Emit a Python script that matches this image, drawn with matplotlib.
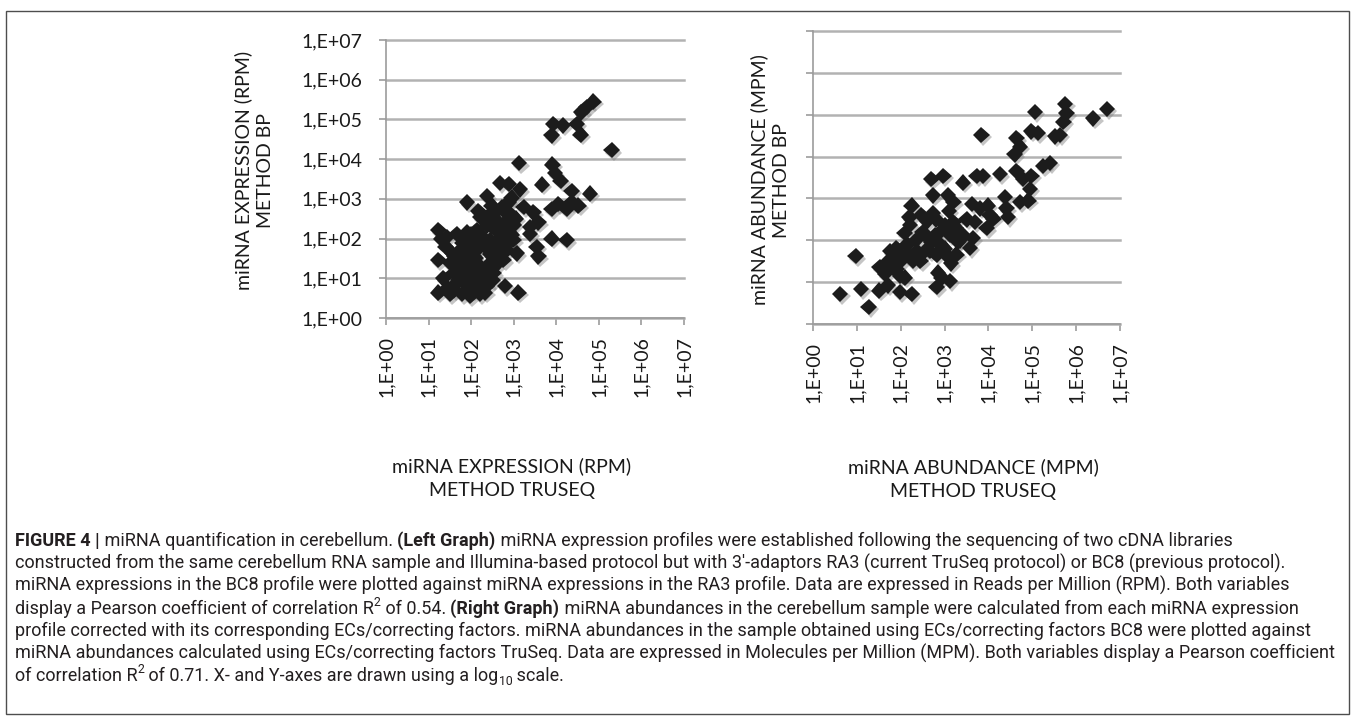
import matplotlib

matplotlib.use("Agg")
import matplotlib.pyplot as plt
import matplotlib.patheffects as pe
import numpy as np
from matplotlib import font_manager
from matplotlib.patches import Rectangle
from matplotlib.transforms import IdentityTransform

W, H, DPI = 1357, 721, 100

# decade ticks shared by both graphs (Excel style labels)
tick_exponents = [0, 1, 2, 3, 4, 5, 6, 7]
tick_labels = ["1,E+00", "1,E+01", "1,E+02", "1,E+03", "1,E+04", "1,E+05", "1,E+06", "1,E+07"]

# left graph, log10 RPM: TruSeq (x) vs BP (y)
left_truseq = [4.87, 4.71, 4.59, 3.93, 4.16, 4.48, 3.89, 4.57, 5.30,
               3.13, 3.91, 3.97, 4.10, 3.66, 4.36, 4.79, 2.68, 2.88, 3.15,
               1.90, 2.37, 2.17, 2.48, 2.95, 3.23, 3.46, 3.89, 4.05, 4.36,
               4.52, 4.24, 3.58, 3.38, 3.38, 3.89, 4.24, 3.54, 3.58,
               1.23, 1.43, 1.66, 1.90, 2.13, 2.37, 2.60, 2.84, 2.91, 2.68,
               2.45, 2.21, 1.98, 1.74, 2.99, 3.07, 2.84, 2.60, 1.23, 1.51,
               1.74, 1.98, 2.21, 2.45, 2.76, 1.59, 1.82, 2.05, 2.29, 2.52,
               1.66, 1.90, 2.13, 2.37, 1.23, 1.51, 1.79, 1.98, 2.21, 2.33,
               2.80, 3.11, 1.55, 1.82, 2.05, 2.37, 2.60, 2.76, 2.25, 1.98,
               2.68, 2.45, 2.72, 2.88, 2.21,
               1.35, 1.45, 1.60, 1.70, 1.85, 1.95, 2.05, 2.10, 2.20, 2.30,
               2.35, 2.45, 2.50, 2.55, 2.60, 2.65, 2.70, 2.75, 2.80, 2.85,
               2.95, 3.00, 2.90, 2.50, 2.30, 2.15, 1.95, 1.80, 2.00, 1.60,
               1.40, 2.40, 2.55, 3.05, 1.30]
left_bp = [5.45, 5.31, 5.18, 4.89, 4.85, 4.89, 4.60, 4.62, 4.23,
           3.90, 3.86, 3.65, 3.45, 3.36, 3.20, 3.13, 3.40, 3.38, 3.24,
           2.91, 3.07, 2.70, 2.83, 3.03, 2.79, 2.66, 2.74, 2.87, 2.91,
           2.83, 2.74, 2.41, 2.29, 2.12, 2.00, 1.96, 1.79, 1.55,
           2.21, 2.04, 2.12, 2.17, 2.21, 2.33, 2.45, 2.62, 2.33, 2.12,
           1.96, 1.79, 1.63, 1.71, 1.96, 1.63, 1.71, 1.55, 1.46, 1.38,
           1.30, 1.38, 1.30, 1.38, 1.46, 1.13, 1.05, 1.13, 1.05, 1.13,
           0.88, 0.80, 0.88, 0.80, 0.64, 0.60, 0.60, 0.55, 0.60, 0.64,
           0.80, 0.64, 1.63, 1.46, 1.55, 1.75, 1.88, 2.04, 2.04, 1.96,
           2.29, 2.62, 2.79, 2.91, 2.54,
           1.00, 0.75, 0.70, 0.95, 1.20, 0.95, 0.70, 1.50, 1.15, 0.90,
           1.25, 1.60, 0.95, 1.30, 1.70, 2.00, 1.85, 2.20, 2.40, 1.90,
           2.10, 2.35, 2.65, 2.30, 2.00, 1.80, 1.75, 1.90, 2.10, 1.55,
           1.80, 2.45, 2.65, 2.50, 2.00]

# right graph, log10 MPM: TruSeq (x) vs BP (y)
right_truseq = [0.62, 0.97, 1.10, 1.27, 1.52, 1.51, 1.71, 1.75, 1.90, 1.83,
                1.98, 1.98, 2.25, 2.09, 2.21, 2.25, 2.28, 2.47, 2.55, 2.70,
                2.74, 2.74, 2.78, 2.82, 2.85, 2.82, 2.97, 3.01, 3.08, 3.20,
                3.12, 3.20, 3.31, 3.12, 2.93, 3.42, 3.42, 3.58, 3.65, 3.62,
                3.73, 3.84, 3.88, 3.81, 3.99, 3.96, 4.11, 4.26, 4.38, 4.41,
                4.45, 4.64, 4.60, 4.72, 4.64, 4.72, 4.79, 4.91, 4.95, 4.98,
                5.06, 4.98, 5.13, 5.25, 5.40, 5.52, 5.63, 5.75, 5.78, 5.71,
                6.39, 6.70, 2.63, 2.89, 3.04, 3.27, 2.66, 2.36, 2.13, 1.71,
                1.64, 1.90, 2.09, 3.69, 4.03,
                1.80, 2.00, 2.15, 2.35, 2.50, 2.60, 2.70, 2.80, 2.90, 3.00,
                3.10, 3.25, 3.35, 2.20, 1.95, 3.50, 2.45, 3.15]
right_bp = [0.72, 1.62, 0.84, 0.41, 1.35, 0.80, 0.92, 1.74, 1.82, 1.35,
            1.15, 0.76, 0.72, 2.17, 2.36, 2.83, 1.50, 2.60, 1.74, 3.46,
            3.07, 2.64, 2.13, 1.66, 1.23, 0.88, 3.54, 2.36, 3.07, 2.91,
            2.13, 2.44, 1.97, 1.03, 1.11, 3.38, 2.13, 1.82, 2.05, 2.87,
            3.54, 4.52, 3.54, 2.76, 2.83, 2.29, 2.52, 3.58, 3.03, 2.76,
            2.56, 4.44, 4.05, 4.24, 3.66, 2.91, 3.46, 2.95, 3.23, 3.54,
            5.07, 4.60, 4.56, 3.77, 3.85, 4.48, 4.52, 5.26, 5.03, 4.83,
            4.91, 5.14, 2.05, 1.90, 1.66, 1.66, 1.74, 1.74, 1.66, 1.50,
            1.19, 1.31, 1.11, 2.44, 2.60,
            1.55, 1.50, 1.90, 2.00, 2.20, 2.45, 1.95, 2.50, 2.20, 1.80,
            2.70, 2.30, 2.00, 2.55, 1.70, 2.50, 1.50, 1.45]

caption_lines = [
    [("FIGURE 4 |", "b"), (" miRNA quantification in cerebellum. ", "n"), ("(Left Graph)", "b"),
     (" miRNA expression profiles were established following the sequencing of two cDNA libraries", "n")],
    [("constructed from the same cerebellum RNA sample and Illumina-based protocol but with "
      "3\u2032-adaptors RA3 (current TruSeq protocol) or BC8 (previous protocol).", "n")],
    [("miRNA expressions in the BC8 profile were plotted against miRNA expressions in the RA3 "
      "profile. Data are expressed in Reads per Million (RPM). Both variables", "n")],
    [("display a Pearson coefficient of correlation R", "n"), ("2", "sup"), (" of 0.54. ", "n"),
     ("(Right Graph)", "b"),
     (" miRNA abundances in the cerebellum sample were calculated from each miRNA expression", "n")],
    [("profile corrected with its corresponding ECs/correcting factors. miRNA abundances in the "
      "sample obtained using ECs/correcting factors BC8 were plotted against", "n")],
    [("miRNA abundances calculated using ECs/correcting factors TruSeq. Data are expressed in "
      "Molecules per Million (MPM). Both variables display a Pearson coefficient", "n")],
    [("of correlation R", "n"), ("2", "sup"), (" of 0.71. X- and Y-axes are drawn using a log", "n"),
     ("10", "sub"), (" scale.", "n")],
]

installed = {f.name for f in font_manager.fontManager.ttflist}
LABEL_FONT = "Lato" if "Lato" in installed else "DejaVu Sans"
CAP_FONT = "Liberation Sans Narrow" if "Liberation Sans Narrow" in installed else "Roboto"
CAP_FAMILY = [CAP_FONT, "DejaVu Sans"]

MARKER_COLOR = "#1c1c1c"
GRID_COLOR = "#b2b2b2"
AXIS_COLOR = "#9c9c9c"


def px_axes(left, top, right, bottom):
    return [left / W, 1 - bottom / H, (right - left) / W, (bottom - top) / H]


def style_axes(ax, show_ylabels):
    ax.set_xscale("log")
    ax.set_yscale("log")
    ax.set_xlim(10.0 ** tick_exponents[0], 10.0 ** tick_exponents[-1])
    ax.set_ylim(10.0 ** tick_exponents[0], 10.0 ** tick_exponents[-1])
    ticks = [10.0 ** e for e in tick_exponents]
    ax.set_xticks(ticks)
    ax.set_xticklabels(tick_labels, rotation=90, fontsize=14, family=LABEL_FONT, color="#1a1a1a")
    ax.set_yticks(ticks)
    if show_ylabels:
        ax.set_yticklabels(tick_labels, fontsize=14, family=LABEL_FONT, color="#1a1a1a")
    else:
        ax.set_yticklabels([])
    ax.minorticks_off()
    ax.tick_params(axis="both", which="major", length=5, width=1.2, color=AXIS_COLOR)
    ax.tick_params(axis="y", pad=12)
    ax.tick_params(axis="x", pad=8)
    ax.grid(axis="y", color=GRID_COLOR, linewidth=1.8, clip_on=False)
    ax.grid(axis="x", visible=False)
    ax.set_axisbelow(True)
    for side in ("top", "right"):
        ax.spines[side].set_visible(False)
    for side in ("left", "bottom"):
        ax.spines[side].set_color(AXIS_COLOR)
        ax.spines[side].set_linewidth(1.2)


def scatter(ax, log_x, log_y):
    x = np.power(10.0, np.asarray(log_x))
    y = np.power(10.0, np.asarray(log_y))
    ax.plot(x, y, linestyle="none", marker="D", markersize=8.4, color=MARKER_COLOR,
            markeredgewidth=0, clip_on=False, zorder=3,
            path_effects=[pe.SimplePatchShadow(offset=(1.5, -1.8), shadow_rgbFace="#808080", alpha=0.45),
                          pe.Normal()])


def text_width(fig, renderer, s, **kw):
    # sentinel bars so leading/trailing spaces count
    t1 = fig.text(0, 0, "|" + s + "|", **kw)
    t2 = fig.text(0, 0, "||", **kw)
    w = t1.get_window_extent(renderer).width - t2.get_window_extent(renderer).width
    t1.remove()
    t2.remove()
    return w


def piece_kw(style, size):
    kw = dict(family=CAP_FAMILY, color="#231f20", transform=IdentityTransform(),
              ha="left", va="baseline")
    if style == "b":
        kw.update(fontsize=size, fontweight="bold")
    elif style in ("sup", "sub"):
        kw.update(fontsize=size * 0.68)
    else:
        kw.update(fontsize=size)
    return kw


def line_width(fig, renderer, pieces, size):
    return sum(text_width(fig, renderer, s, **piece_kw(st, size)) for s, st in pieces)


def draw_caption(fig, x0, first_baseline, spacing, ref_line, target_width):
    renderer = fig.canvas.get_renderer()
    trial = 10.0
    size = trial * target_width / line_width(fig, renderer, caption_lines[ref_line], trial)
    size_px = size * DPI / 72.0
    for i, pieces in enumerate(caption_lines):
        x = x0
        base = H - (first_baseline + i * spacing)
        for s, st in pieces:
            kw = piece_kw(st, size)
            y = base
            if st == "sup":
                y = base + 0.42 * size_px
            elif st == "sub":
                y = base - 0.22 * size_px
            fig.text(x, y, s, **kw)
            x += text_width(fig, renderer, s, **kw)


fig = plt.figure(figsize=(W / DPI, H / DPI), dpi=DPI)
fig.patch.set_facecolor("white")

fig.patches.append(Rectangle((6 / W, 1 - 714 / H), (1349 - 6) / W, (714 - 11) / H,
                             transform=fig.transFigure, fill=False, edgecolor="#4d4d4d",
                             linewidth=1.0))

ax_left = fig.add_axes(px_axes(386, 40, 684, 318))
style_axes(ax_left, True)
scatter(ax_left, left_truseq, left_bp)

ax_right = fig.add_axes(px_axes(813, 31, 1120, 324))
style_axes(ax_right, False)
scatter(ax_right, right_truseq, right_bp)

label_kw = dict(fontsize=14, family=LABEL_FONT, color="#1a1a1a", ha="center", va="center",
                multialignment="center")
fig.text(254 / W, 1 - 170 / H, "miRNA EXPRESSION (RPM)\nMETHOD BP", rotation=90,
         linespacing=1.3, **label_kw)
fig.text(770 / W, 1 - 180 / H, "miRNA ABUNDANCE (MPM)\nMETHOD BP", rotation=90,
         linespacing=1.3, **label_kw)
fig.text(512 / W, 1 - 478 / H, "miRNA EXPRESSION (RPM)\nMETHOD TRUSEQ", linespacing=1.5, **label_kw)
fig.text(973 / W, 1 - 479 / H, "miRNA ABUNDANCE (MPM)\nMETHOD TRUSEQ", linespacing=1.5, **label_kw)

draw_caption(fig, 15, 546, 22.5, 5, 1318)

fig.savefig("out.png", dpi=DPI, facecolor="white")
plt.close(fig)
